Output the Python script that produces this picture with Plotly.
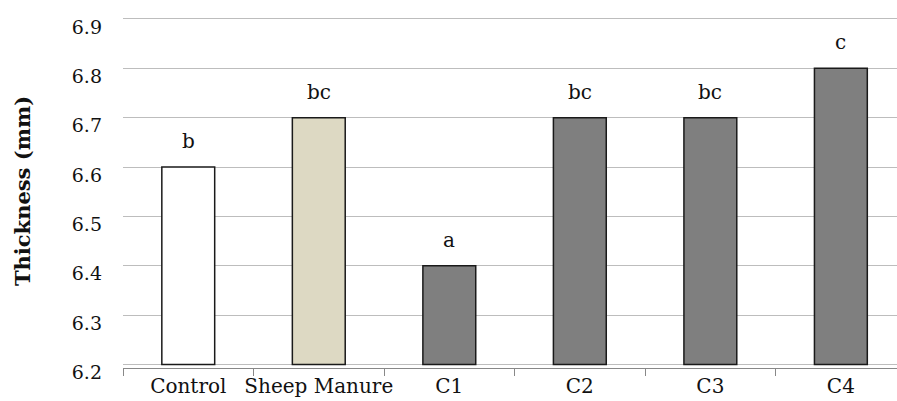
import plotly.graph_objects as go

categories = ["Control", "Sheep Manure", "C1", "C2", "C3", "C4"]
thickness = [6.6, 6.7, 6.4, 6.7, 6.7, 6.8]
letters = ["b", "bc", "a", "bc", "bc", "c"]
bar_colors = ["#FFFFFF", "#DDD9C3", "#7F7F7F", "#7F7F7F", "#7F7F7F", "#7F7F7F"]
y_ticks = [6.2, 6.3, 6.4, 6.5, 6.6, 6.7, 6.8, 6.9]
base_value = 6.2

FONT = "DejaVu Serif"

fig = go.Figure()
fig.add_trace(go.Bar(
    x=categories,
    y=[v - base_value for v in thickness],
    base=base_value,
    width=0.405,
    marker=dict(color=bar_colors, line=dict(color="#1a1a1a", width=1.5)),
    showlegend=False,
    hoverinfo="skip",
))

for c, v, t in zip(categories, thickness, letters):
    fig.add_annotation(x=c, y=v, text=t, showarrow=False, yanchor="bottom",
                       yshift=12, font=dict(family=FONT, size=20, color="#111"))

fig.update_layout(
    width=897, height=401,
    margin=dict(l=123, r=0, t=14, b=33),
    paper_bgcolor="white", plot_bgcolor="white",
    font=dict(family=FONT, color="#111"),
    xaxis=dict(
        type="category",
        range=[-0.5, 5.43],
        automargin=False,
        tickangle=0,
        showline=True, linecolor="#888888", linewidth=1,
        ticks="outside", tickson="boundaries", ticklen=7, tickcolor="#888888",
        tickfont=dict(family=FONT, size=20, color="#111"),
        showgrid=False,
    ),
    yaxis=dict(
        range=[6.193, 6.91],
        automargin=False,
        tickvals=y_ticks,
        ticktext=[f"{v:.1f}" for v in y_ticks],
        showgrid=True, gridcolor="#bdbdbd", gridwidth=1,
        showline=False, zeroline=False, ticks="",
        tickfont=dict(family=FONT, size=19, color="#111"),
        ticklabelstandoff=20,
        ticklabelshift=8,
        title=dict(text="<b>Thickness (mm)</b>", font=dict(family=FONT, size=21, color="#111"), standoff=35),
    ),
)

fig.write_html("out.html", config={"displayModeBar": False},
               post_script="document.body.style.margin='0';document.body.style.overflow='hidden';")
